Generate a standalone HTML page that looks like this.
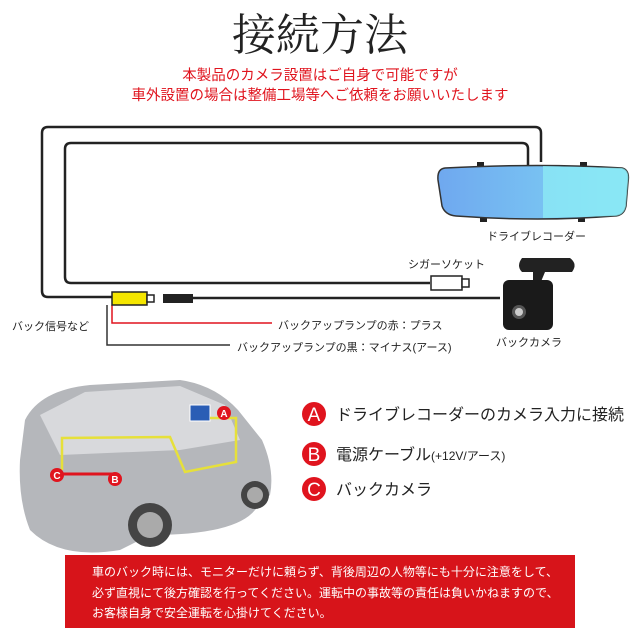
<html><head><style>body{margin:0;background:#fff}svg text{font-family:"Liberation Sans","Noto Sans CJK JP",sans-serif}</style></head><body>
<svg width="640" height="640" viewBox="0 0 640 640" xmlns="http://www.w3.org/2000/svg">
<text x="320" y="50" text-anchor="middle" font-size="44" style="font-family:'Noto Serif CJK SC',serif" fill="#222">接続方法</text>
<text x="320" y="80" text-anchor="middle" font-size="14.5" fill="#e0141e">本製品のカメラ設置はご自身で可能ですが</text>
<text x="320" y="100" text-anchor="middle" font-size="14.5" fill="#e0141e">車外設置の場合は整備工場等へご依頼をお願いいたします</text>
<g fill="none" stroke="#222" stroke-width="2.5">
<path d="M112 297 H48 Q42 297 42 291 V133 Q42 127 48 127 H535 Q541 127 541 133 V162"/>
<path d="M430 283 H71 Q65 283 65 277 V149 Q65 143 71 143 H522 Q528 143 528 149 V166"/>
<path d="M193 298 H500"/>
</g>
<path d="M112 305 V323 H272" fill="none" stroke="#e0141e" stroke-width="1.5"/>
<path d="M107 305 V345 H230" fill="none" stroke="#333" stroke-width="1.5"/>
<rect x="112" y="292" width="35" height="13" fill="#f5e600" stroke="#222" stroke-width="1.5"/>
<rect x="147" y="295" width="7" height="7" fill="#fff" stroke="#222" stroke-width="1.5"/>
<rect x="163" y="294" width="30" height="9" fill="#222"/>
<rect x="431" y="276" width="31" height="14" fill="#fff" stroke="#222" stroke-width="1.5"/>
<rect x="462" y="279" width="7" height="8" fill="#fff" stroke="#222" stroke-width="1.5"/>
<defs><linearGradient id="m" x1="0" x2="1"><stop offset="0" stop-color="#6fa8ef"/><stop offset="1" stop-color="#7fd6f5"/></linearGradient></defs>
<rect x="477" y="162" width="7" height="6" fill="#222"/><rect x="580" y="162" width="7" height="6" fill="#222"/>
<rect x="480" y="216" width="7" height="6" fill="#222"/><rect x="578" y="216" width="7" height="6" fill="#222"/>
<path d="M445 168 Q540 163 622 168 Q630 170 628 182 L626 206 Q624 216 614 216 Q540 222 456 216 Q445 215 442 206 L438 180 Q437 169 445 168Z" fill="url(#m)" stroke="#333" stroke-width="1.5"/>
<path d="M543 166 L622 168 Q630 170 628 182 L626 206 Q624 216 614 216 L543 218Z" fill="#8ff0f5" opacity="0.7"/>
<path d="M533 272 L522 272 Q516 266 522 258 L570 258 Q578 264 572 272 L545 272 L540 284 L533 284Z" fill="#222"/>
<rect x="503" y="280" width="50" height="50" rx="6" fill="#1a1a1a"/>
<circle cx="519" cy="312" r="7" fill="#555"/><circle cx="519" cy="312" r="4" fill="#ccc"/>
<g font-size="11" fill="#222">
<text x="487" y="240">ドライブレコーダー</text>
<text x="408" y="268">シガーソケット</text>
<text x="12" y="330">バック信号など</text>
<text x="278" y="329">バックアップランプの赤：プラス</text>
<text x="237" y="351">バックアップランプの黒：マイナス(アース)</text>
<text x="496" y="346">バックカメラ</text>
</g>
<!-- car -->
<path d="M25 420 Q40 390 90 385 L180 380 Q215 385 238 410 L262 440 Q275 470 270 495 L255 510 Q235 535 150 535 L120 550 Q60 560 30 530 Q18 500 20 460Z" fill="#b5b7bb"/>
<path d="M40 415 L85 392 L180 386 L225 405 L240 440 L180 450 L60 455Z" fill="#d8d9dc"/>
<circle cx="150" cy="525" r="22" fill="#444"/><circle cx="150" cy="525" r="13" fill="#aaa"/>
<circle cx="255" cy="495" r="14" fill="#444"/><circle cx="255" cy="495" r="8" fill="#aaa"/>
<rect x="190" y="405" width="20" height="16" fill="#2a5db5" stroke="#fff"/>
<path d="M210 418 H236 V462 L185 472 L170 437 L62 438 V470" fill="none" stroke="#e6e03a" stroke-width="2.5"/>
<path d="M58 474 H113" stroke="#e0141e" stroke-width="3"/>
<g font-size="10" font-weight="bold" fill="#fff" text-anchor="middle">
<circle cx="224" cy="413" r="7" fill="#e0141e"/><text x="224" y="417">A</text>
<circle cx="115" cy="479" r="7" fill="#e0141e"/><text x="115" y="483">B</text>
<circle cx="57" cy="475" r="7" fill="#e0141e"/><text x="57" y="479">C</text>
</g>
<g>
<circle cx="314" cy="414" r="12" fill="#e0141e"/><text x="314" y="421" font-size="19" fill="#fff" text-anchor="middle">A</text>
<circle cx="314" cy="454" r="12" fill="#e0141e"/><text x="314" y="461" font-size="19" fill="#fff" text-anchor="middle">B</text>
<circle cx="314" cy="489" r="12" fill="#e0141e"/><text x="314" y="496" font-size="19" fill="#fff" text-anchor="middle">C</text>
<text x="336" y="420" font-size="16" fill="#222">ドライブレコーダーのカメラ入力に接続</text>
<text x="336" y="460" font-size="16" fill="#222">電源ケーブル<tspan font-size="12">(+12V/アース)</tspan></text>
<text x="336" y="495" font-size="16" fill="#222">バックカメラ</text>
</g>
<rect x="65" y="555" width="510" height="73" fill="#d7141a"/>
<g font-size="12" fill="#fff">
<text x="92" y="576">車のバック時には、モニターだけに頼らず、背後周辺の人物等にも十分に注意をして、</text>
<text x="92" y="597">必ず直視にて後方確認を行ってください。運転中の事故等の責任は負いかねますので、</text>
<text x="92" y="617">お客様自身で安全運転を心掛けてください。</text>
</g>
</svg>
</body></html>
